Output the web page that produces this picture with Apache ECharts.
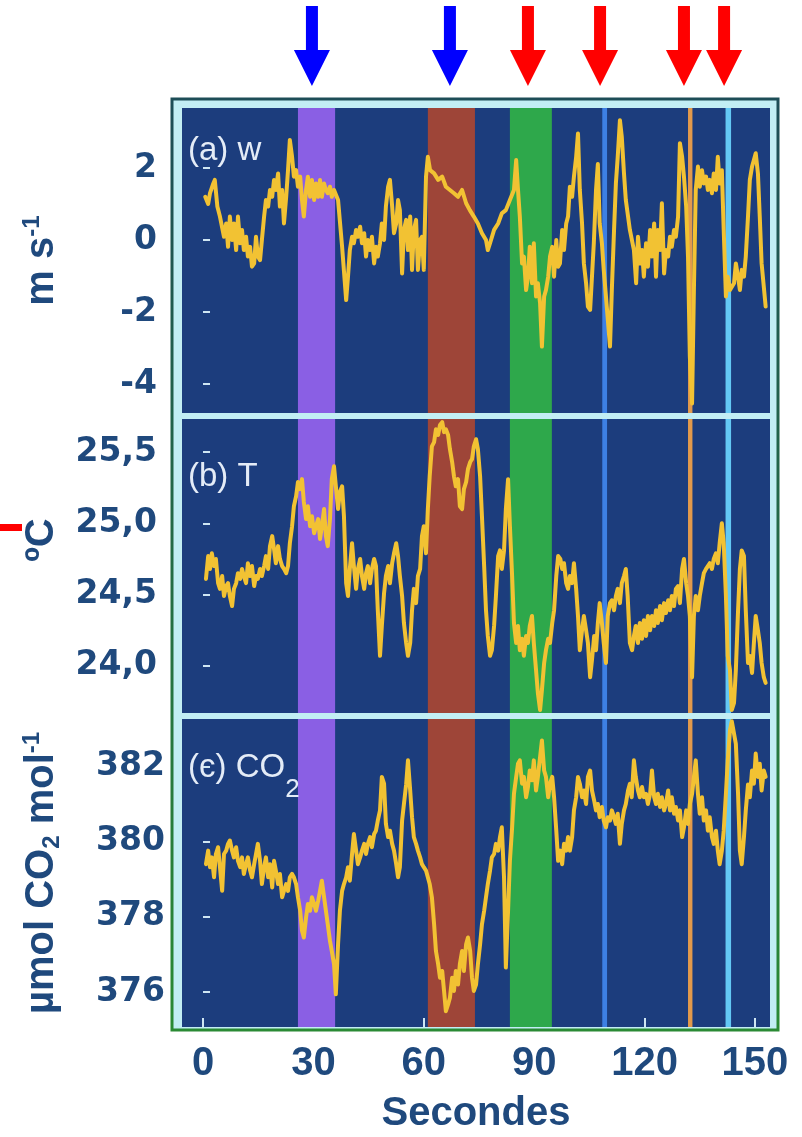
<!DOCTYPE html>
<html>
<head>
<meta charset="utf-8">
<script src="https://cdn.jsdelivr.net/npm/echarts@6/dist/echarts.min.js"></script>
<style>
  html, body { margin: 0; padding: 0; background: #ffffff; }
  #chart { width: 802px; height: 1137px; }
</style>
</head>
<body>
<div id="chart"></div>
<script>
// ---- data -------------------------------------------------------------
// time axis tick labels (s)
const timeTicks = [0, 30, 60, 90, 120, 150];
const wTicks = [-4, -2, 0, 2];
const tempTicks = [24.0, 24.5, 25.0, 25.5];
const co2Ticks = [376, 378, 380, 382];

// (a) vertical wind speed w [s, m s-1]
const wSeries = [[0.6,1.2],[1.4,1.0],[1.9,1.3],[2.8,1.57],[3.2,1.67],[3.9,0.93],[4.6,0.65],[5.7,0.09],[6.3,0.46],[6.8,-0.19],[7.3,0.65],[7.9,0],[8.4,0.46],[9.0,-0.28],[9.5,0.65],[10.1,-0.09],[10.6,0.28],[11.1,-0.28],[11.7,0.09],[12.2,-0.46],[12.8,-0.19],[13.3,-0.74],[13.9,-0.65],[14.4,0.09],[14.9,-0.46],[15.5,-0.56],[16.0,0],[16.6,0.65],[17.1,1.11],[17.7,0.93],[18.2,1.39],[18.8,1.2],[19.3,1.67],[19.8,1.39],[20.4,1.85],[20.9,0.93],[21.5,1.39],[22.0,0.46],[22.6,1.2],[23.1,1.94],[23.6,2.78],[24.2,2.31],[24.7,1.76],[25.3,1.94],[25.8,1.48],[26.4,1.76],[26.9,1.11],[27.4,0.65],[28.0,1.39],[28.5,1.76],[29.1,1.2],[29.6,1.67],[30.2,1.11],[30.7,1.57],[31.3,1.2],[31.8,1.67],[32.3,1.2],[32.9,1.57],[33.4,1.39],[33.9,1.3],[34.5,1.48],[35.0,1.2],[35.6,1.39],[36.7,1.11],[37.8,-0.19],[38.9,-1.67],[39.4,-1.02],[39.9,-0.28],[40.5,0.09],[41.0,-0.09],[41.6,0.28],[42.1,0.09],[42.7,0.37],[43.2,-0.09],[43.8,0.19],[44.3,-0.46],[44.8,0],[45.4,-0.28],[45.9,0.09],[46.5,-0.65],[47.0,-0.19],[47.5,-0.46],[48.1,-0.09],[48.6,0.46],[49.2,0],[49.7,0.93],[50.3,1.48],[50.8,1.67],[51.4,0.93],[51.9,0.19],[52.5,0.46],[53.0,1.11],[53.5,0.83],[54.1,-0.93],[54.6,0.28],[55.2,0.56],[55.7,-0.28],[56.3,0.65],[56.8,-0.83],[57.3,0.28],[57.9,0.56],[58.4,-0.83],[59.0,0],[59.5,0.09],[60.0,-0.83],[60.6,1.76],[61.1,2.31],[61.7,1.94],[62.8,1.85],[63.9,1.67],[65.0,1.76],[66.0,1.48],[67.1,1.39],[68.2,1.3],[69.3,1.2],[70.4,1.39],[71.5,1.02],[72.5,0.83],[73.6,0.65],[74.7,0.46],[75.8,0.19],[76.9,0],[77.4,-0.28],[78.0,-0.09],[79.1,0.28],[80.2,0.46],[81.2,0.74],[82.3,0.83],[83.4,1.11],[84.5,1.39],[85.1,2.22],[85.6,1.39],[86.1,0.65],[86.7,-0.65],[87.2,-0.46],[87.8,-1.39],[88.3,-1.02],[88.8,-0.19],[89.4,-1.2],[89.9,-0.09],[90.5,-1.57],[91.0,-1.2],[91.6,-1.76],[92.1,-2.96],[92.7,-1.57],[93.2,-1.39],[93.8,-1.02],[94.3,-0.46],[94.9,-0.19],[95.4,-1.02],[96.0,0],[96.5,-0.74],[97.0,-0.65],[97.6,0.28],[98.1,-0.28],[98.7,0.46],[99.2,0.65],[99.7,1.48],[100.3,1.2],[100.8,1.76],[101.4,2.31],[101.9,2.96],[102.4,1.39],[103.0,0.46],[103.5,-0.65],[104.1,-1.2],[104.6,-1.85],[105.2,-1.94],[105.7,-1.02],[106.2,-0.09],[106.8,1.39],[107.3,2.11],[107.8,0.46],[108.4,-0.09],[108.9,-0.83],[109.5,-1.57],[110.6,-2.96],[111.1,-1.39],[111.7,0.28],[112.2,1.57],[112.7,2.31],[113.3,3.33],[113.8,2.87],[114.4,1.85],[114.9,1.11],[116.0,0.28],[117.1,-0.28],[117.7,-1.2],[118.2,0.09],[118.8,-0.65],[119.3,-0.28],[119.8,-1.02],[120.4,-0.09],[120.9,-0.74],[121.5,0.28],[122.0,-0.46],[122.6,0.46],[123.1,-1.02],[123.6,0.28],[124.2,-0.28],[124.7,1.02],[125.3,-0.93],[125.8,-0.28],[126.4,-0.46],[126.9,0.09],[127.4,-0.19],[128.0,0.28],[128.5,0.09],[129.1,0.65],[129.6,2.69],[130.2,2.31],[130.7,1.76],[131.3,0.93],[131.8,-0.46],[132.3,-3.24],[132.9,-4.54],[133.4,-1.39],[133.9,1.39],[134.5,2.04],[135.0,1.48],[135.6,1.94],[136.1,1.57],[136.7,1.76],[137.2,1.39],[137.7,1.67],[138.3,1.3],[138.8,1.85],[139.4,1.39],[139.9,2.31],[140.4,1.57],[141.0,1.94],[141.5,0.28],[142.1,-1.57],[142.6,-1.02],[143.2,-1.39],[144.3,-1.2],[144.8,-0.65],[145.4,-1.02],[145.9,-1.39],[146.4,-0.83],[147.0,-1.02],[147.5,-0.46],[148.1,0.65],[148.6,1.67],[149.2,2.04],[149.7,2.22],[150.2,2.41],[150.8,1.85],[151.3,0.65],[151.8,-0.65],[152.9,-1.85]];

// (b) air temperature T [s, degC]
const tempSeries = [[0.8,24.61],[1.4,24.77],[1.9,24.68],[2.4,24.79],[3.0,24.70],[3.5,24.75],[4.1,24.58],[4.6,24.54],[5.2,24.63],[5.7,24.49],[6.3,24.56],[6.8,24.58],[7.3,24.49],[7.9,24.42],[8.4,24.54],[9.0,24.58],[9.5,24.65],[10.1,24.61],[10.6,24.68],[11.1,24.63],[11.7,24.58],[12.2,24.72],[12.8,24.63],[13.3,24.70],[13.9,24.56],[14.4,24.63],[14.9,24.61],[15.5,24.68],[16.0,24.63],[16.6,24.70],[17.1,24.77],[17.7,24.68],[18.2,24.84],[18.8,24.91],[19.3,24.82],[19.8,24.72],[20.4,24.84],[20.9,24.75],[21.5,24.70],[22.0,24.68],[22.6,24.65],[23.1,24.70],[23.6,24.86],[24.2,24.98],[24.7,25.12],[25.3,25.19],[25.8,25.29],[26.4,25.24],[26.9,25.31],[27.4,25.15],[28.0,25.03],[28.5,25.12],[29.1,24.98],[29.6,25.05],[30.2,24.93],[30.7,24.98],[31.3,25.03],[31.8,24.89],[32.3,24.98],[32.9,25.10],[33.4,24.91],[33.9,24.84],[34.5,25.03],[35.0,25.31],[35.6,25.40],[36.1,25.26],[36.7,25.10],[37.2,25.22],[37.8,25.26],[38.3,25.05],[38.9,24.58],[39.4,24.49],[39.9,24.68],[40.5,24.86],[41.0,24.70],[41.6,24.54],[42.1,24.68],[42.7,24.75],[43.2,24.63],[43.8,24.54],[44.3,24.65],[44.8,24.70],[45.4,24.58],[45.9,24.68],[46.5,24.75],[47.0,24.70],[47.5,24.39],[48.1,24.07],[48.6,24.28],[49.2,24.51],[49.7,24.63],[50.3,24.70],[50.8,24.58],[51.4,24.72],[51.9,24.79],[52.5,24.86],[53.0,24.77],[53.5,24.63],[54.1,24.49],[54.6,24.30],[55.2,24.16],[55.7,24.07],[56.3,24.16],[56.8,24.39],[57.3,24.54],[57.9,24.44],[58.4,24.63],[59.0,24.68],[59.5,24.91],[60.0,24.98],[60.6,24.79],[61.1,25.10],[61.6,25.33],[62.2,25.54],[62.8,25.57],[63.3,25.66],[63.9,25.62],[64.4,25.69],[65.0,25.71],[65.5,25.64],[66.0,25.66],[66.6,25.62],[67.1,25.52],[67.7,25.43],[68.2,25.33],[68.7,25.26],[69.3,25.31],[69.8,25.12],[70.4,25.10],[70.9,25.24],[71.5,25.29],[72.0,25.38],[72.6,25.43],[73.1,25.45],[73.6,25.54],[74.2,25.59],[74.7,25.52],[75.3,25.33],[75.8,25.05],[76.4,24.70],[76.9,24.39],[77.4,24.21],[78.0,24.07],[78.5,24.11],[79.1,24.28],[79.6,24.49],[80.2,24.77],[80.7,24.81],[81.2,24.68],[81.8,24.81],[82.3,25.10],[82.9,25.31],[83.4,24.98],[84.0,24.63],[84.5,24.30],[85.1,24.16],[85.6,24.28],[86.1,24.11],[86.7,24.19],[87.2,24.07],[87.8,24.21],[88.3,24.16],[88.8,24.28],[89.4,24.35],[89.9,24.16],[90.5,23.97],[91.0,23.81],[91.6,23.69],[92.1,23.83],[92.7,24.02],[93.2,24.11],[93.8,24.19],[94.3,24.16],[94.9,24.30],[95.4,24.39],[96.0,24.63],[96.5,24.77],[97.1,24.75],[97.6,24.68],[98.1,24.72],[98.7,24.58],[99.2,24.54],[99.7,24.63],[100.3,24.58],[100.8,24.72],[101.4,24.54],[101.9,24.35],[102.4,24.11],[103.0,24.25],[103.5,24.35],[104.1,24.25],[104.6,24.16],[105.2,23.92],[105.7,24.04],[106.3,24.21],[106.8,24.11],[107.3,24.30],[107.8,24.44],[108.4,24.30],[108.9,24.16],[109.5,24.02],[110.0,24.35],[110.6,24.44],[111.1,24.46],[111.7,24.39],[112.2,24.49],[112.7,24.54],[113.3,24.44],[113.8,24.58],[114.4,24.63],[114.9,24.68],[115.4,24.49],[116.0,24.16],[116.6,24.11],[117.1,24.21],[117.6,24.28],[118.2,24.16],[118.7,24.30],[119.3,24.19],[119.8,24.32],[120.4,24.21],[120.9,24.35],[121.5,24.25],[122.0,24.35],[122.6,24.28],[123.1,24.39],[123.6,24.30],[124.2,24.42],[124.7,24.32],[125.3,24.44],[125.8,24.37],[126.4,24.46],[126.9,24.39],[127.4,24.49],[128.0,24.42],[128.5,24.54],[129.1,24.56],[129.6,24.44],[130.2,24.68],[130.7,24.75],[131.3,24.58],[131.8,24.49],[132.3,24.35],[132.9,23.92],[133.4,24.35],[133.9,24.49],[134.5,24.39],[135.0,24.49],[135.6,24.58],[136.1,24.65],[136.7,24.68],[137.2,24.70],[137.7,24.72],[138.3,24.68],[138.8,24.75],[139.4,24.79],[139.9,24.72],[140.4,24.86],[141.0,25.00],[141.5,24.86],[142.1,24.49],[142.6,24.07],[143.2,23.97],[143.7,23.69],[144.3,23.74],[144.8,23.97],[145.4,24.39],[145.9,24.68],[146.4,24.81],[147.0,24.77],[147.5,24.39],[148.1,24.02],[148.6,24.07],[149.2,23.95],[149.7,24.16],[150.2,24.35],[150.8,24.25],[151.3,24.16],[151.8,24.02],[152.4,23.92],[152.9,23.88]];

// (c) CO2 mole fraction [s, umol mol-1]
const co2Series = [[0.8,379.40],[1.4,379.76],[1.9,379.32],[2.4,379.58],[3.0,379.05],[3.5,379.67],[4.1,379.85],[4.6,379.32],[5.2,378.69],[5.7,379.67],[6.3,379.76],[6.8,379.94],[7.3,380.03],[7.9,379.76],[8.4,379.58],[9.0,379.85],[9.5,379.49],[10.1,379.32],[10.6,379.58],[11.1,379.14],[11.7,379.40],[12.2,379.58],[12.8,379.23],[13.3,379.05],[13.9,379.40],[14.4,379.67],[14.9,379.94],[15.5,379.49],[16.0,378.87],[16.6,379.32],[17.1,379.58],[17.7,379.05],[18.2,379.40],[18.8,378.78],[19.3,379.49],[19.8,379.23],[20.4,378.87],[20.9,379.14],[21.5,378.52],[22.0,378.69],[22.6,378.87],[23.1,378.69],[23.6,379.05],[24.2,379.14],[24.7,379.05],[25.3,378.87],[25.8,378.52],[26.4,378.16],[26.9,377.63],[27.4,377.45],[28.0,377.98],[28.5,378.34],[29.1,378.16],[29.6,378.52],[30.2,378.34],[30.7,378.16],[31.3,378.43],[31.8,378.69],[32.3,378.96],[32.9,378.52],[33.4,378.16],[33.9,377.80],[34.5,377.36],[35.0,377.09],[35.6,376.74],[36.1,375.94],[36.7,377.27],[37.2,378.16],[37.8,378.69],[38.3,378.87],[38.9,379.05],[39.4,379.32],[39.9,378.96],[40.5,379.67],[41.0,380.20],[41.6,379.76],[42.1,379.40],[42.7,379.58],[43.2,379.76],[43.8,379.94],[44.3,379.67],[44.8,379.94],[45.4,380.12],[45.9,379.85],[46.5,380.20],[47.0,380.29],[47.5,380.56],[48.1,380.83],[48.6,381.72],[49.2,381.54],[49.7,380.47],[50.3,380.12],[50.8,380.29],[51.4,379.94],[51.9,379.76],[52.5,379.40],[53.0,379.05],[53.5,379.32],[54.1,380.56],[54.6,381.0],[55.2,381.52],[55.7,382.16],[56.3,381.36],[56.8,380.65],[57.3,380.12],[57.9,379.94],[58.4,379.76],[59.0,379.58],[59.5,379.40],[60.0,379.32],[60.6,379.23],[61.1,379.05],[61.6,378.87],[62.2,378.52],[62.8,377.80],[63.3,377.09],[63.9,376.74],[64.4,376.38],[65.0,376.56],[65.5,376.03],[66.0,375.49],[66.6,375.67],[67.1,375.85],[67.7,376.38],[68.2,376.03],[68.7,376.56],[69.3,376.20],[69.8,376.74],[70.4,377.09],[70.9,376.56],[71.5,377.27],[72.0,377.45],[72.6,377.09],[73.1,376.38],[73.6,376.03],[74.2,376.20],[74.7,376.74],[75.3,377.27],[75.8,377.80],[76.4,378.16],[76.9,378.52],[77.4,378.87],[78.0,379.23],[78.5,379.58],[79.1,379.67],[79.6,379.94],[80.2,379.76],[80.7,380.12],[81.2,380.38],[81.8,379.05],[82.3,376.65],[82.9,378.16],[83.4,379.49],[84.0,380.38],[84.5,381.27],[85.1,381.72],[85.6,382.07],[86.1,382.16],[86.7,381.54],[87.2,381.72],[87.8,381.18],[88.3,381.45],[88.8,381.89],[89.4,381.63],[89.9,382.16],[90.5,381.36],[91.0,381.72],[91.6,382.25],[92.1,382.69],[92.7,381.89],[93.2,381.72],[93.8,381.18],[94.3,381.54],[94.9,381.72],[95.4,381.18],[96.0,380.29],[96.5,379.49],[97.1,379.76],[97.6,379.40],[98.1,379.94],[98.7,379.76],[99.2,380.12],[99.7,379.76],[100.3,380.12],[100.8,380.83],[101.4,381.18],[101.9,381.72],[102.4,381.54],[103.0,381.18],[103.5,381.36],[104.1,381.0],[104.6,381.72],[105.2,381.89],[105.7,381.36],[106.3,381.09],[106.8,380.83],[107.3,381.0],[107.8,380.65],[108.4,380.92],[108.9,380.56],[109.5,380.38],[110.0,380.65],[110.6,380.56],[111.1,380.83],[111.7,380.65],[112.2,380.47],[112.7,380.74],[113.3,379.94],[113.8,380.47],[114.4,380.83],[114.9,381.0],[115.5,381.36],[116.0,381.54],[116.5,381.18],[117.1,382.16],[117.6,381.72],[118.2,381.36],[118.7,381.18],[119.3,381.45],[119.8,381.18],[120.4,381.27],[120.9,381.0],[121.5,381.27],[122.0,381.89],[122.6,381.18],[123.1,381.0],[123.6,381.27],[124.2,380.92],[124.7,381.18],[125.3,380.83],[125.8,381.0],[126.4,381.36],[126.9,380.83],[127.4,381.18],[128.0,380.74],[128.5,380.92],[129.1,380.56],[129.6,380.83],[130.2,380.12],[130.7,380.38],[131.3,380.83],[131.8,380.47],[132.3,381.0],[132.9,381.27],[133.4,381.72],[133.9,382.16],[134.5,381.27],[135.0,380.74],[135.6,381.18],[136.1,380.56],[136.7,380.83],[137.2,380.29],[137.7,380.65],[138.3,380.12],[138.8,379.94],[139.4,380.29],[139.9,379.76],[140.4,379.40],[141.0,379.76],[141.5,380.29],[142.1,381.27],[142.6,382.16],[143.2,382.96],[143.7,383.2],[144.8,382.6],[145.4,381.27],[145.9,379.76],[146.4,379.40],[147.0,380.12],[147.5,380.83],[148.1,381.52],[148.6,381.18],[149.2,381.89],[149.7,381.54],[150.2,382.34],[150.8,381.72],[151.3,382.07],[151.8,381.36],[152.4,381.89],[152.9,381.72]];

// highlighted periods [start s, end s]
const bandSpans = [[25.8, 35.9], [61.1, 73.9], [83.4, 94.8], [108.5, 109.8], [131.8, 133.0], [142.0, 143.5]];
// event arrows: time (s) and kind
const arrowTimes = [29.6, 67.1, 88.3, 107.9, 130.7, 141.6];
const arrowKinds = ['cool', 'cool', 'warm', 'warm', 'warm', 'warm'];

// ---- styling / layout ---------------------------------------------------
const bandColors = ['#8a5fe4', '#9e4538', '#2ea84b', '#3d80e4', '#e29a4c', '#63c8f4'];
const arrowColors = { cool: '#0000ff', warm: '#ff0000' };
const NAVY = '#1c3d7d';
const FRAME = '#c2eef4';
const INK = '#1f497d';
const TRACE = '#f2c233';
const TICK = '#cfe6f3';

const PLOT_L = 182, PLOT_R = 770;
const panels = [
  { top: 108, bottom: 413, min: -4.806, max: 3.667 },
  { top: 419, bottom: 713, min: 23.669, max: 25.732 },
  { top: 719, bottom: 1027, min: 375.07, max: 383.26 }
];
const X_MIN = -5.71, X_MAX = 154.08;

const chart = echarts.init(document.getElementById('chart'), null, { renderer: 'canvas' });

const grids = panels.map(p => ({
  left: PLOT_L, width: PLOT_R - PLOT_L, top: p.top, height: p.bottom - p.top,
  show: true, backgroundColor: NAVY, borderWidth: 0
}));

const xAxes = panels.map((p, i) => {
  const last = i === panels.length - 1;
  return {
    type: 'value', gridIndex: i, min: X_MIN, max: X_MAX,
    axisLine: { show: false }, splitLine: { show: false },
    axisTick: last ? { show: true, inside: true, length: 9, customValues: timeTicks, lineStyle: { color: TICK, width: 2 } } : { show: false },
    axisLabel: last ? {
      show: true, customValues: timeTicks, margin: 17, color: INK,
      fontFamily: 'Liberation Sans', fontWeight: 'bold', fontSize: 40
    } : { show: false },
    name: last ? 'Secondes' : '', nameLocation: 'middle', nameGap: 67,
    nameTextStyle: { color: INK, fontFamily: 'Liberation Sans', fontWeight: 'bold', fontSize: 40 }
  };
});

const nameRich = {
  b: { fontFamily: 'Liberation Sans', fontWeight: 'bold', fontSize: 40, color: INK, lineHeight: 44 },
  sup: { fontFamily: 'Liberation Sans', fontWeight: 'bold', fontSize: 24, color: INK, lineHeight: 44, verticalAlign: 'top' },
  sub: { fontFamily: 'Liberation Sans', fontWeight: 'bold', fontSize: 24, color: INK, lineHeight: 44, verticalAlign: 'bottom' },
  bshift: { fontFamily: 'Liberation Sans', fontWeight: 'bold', fontSize: 40, color: INK, lineHeight: 44, padding: [0, 0, 0, 52] }
};

function yAxis(i, ticks, name, formatter, margin, labelPad) {
  return {
    type: 'value', gridIndex: i, min: panels[i].min, max: panels[i].max,
    axisLine: { show: false }, splitLine: { show: false },
    axisTick: { show: true, inside: true, length: 7, customValues: ticks, lineStyle: { color: TICK, width: 2 } },
    axisLabel: {
      show: true, customValues: ticks, formatter, margin, color: INK,
      fontFamily: 'DejaVu Sans', fontWeight: 'bold', fontSize: 33, padding: labelPad
    },
    name, nameLocation: 'middle', nameRotate: 90, nameGap: 118,
    nameTextStyle: { rich: nameRich }
  };
}

const yAxes = [
  yAxis(0, wTicks, '{b|m s}{sup|-1}', v => String(v), 25, [6, 0, 0, 0]),
  yAxis(1, tempTicks, '{bshift|ºC}', v => v.toFixed(1).replace('.', ','), 25, [0, 0, 0, 0]),
  yAxis(2, co2Ticks, '{b|µmol CO}{sub|2}{b| mol}{sup|-1}', v => String(v), 17, [0, 0, 12, 0])
];

function bandSeries(i) {
  return {
    type: 'custom', xAxisIndex: i, yAxisIndex: i, z: 1, silent: true, animation: false,
    data: bandSpans.map((s, k) => [s[0], s[1], k]),
    encode: { x: [0, 1] },
    renderItem: (params, api) => {
      const cs = params.coordSys;
      const x0 = api.coord([api.value(0), panels[i].min])[0];
      const x1 = api.coord([api.value(1), panels[i].min])[0];
      return {
        type: 'rect',
        shape: { x: x0, y: cs.y, width: x1 - x0, height: cs.height },
        style: { fill: bandColors[api.value(2)] }
      };
    }
  };
}

function traceSeries(i, data) {
  return {
    type: 'line', xAxisIndex: i, yAxisIndex: i, z: 3, data,
    symbol: 'none', showSymbol: false, animation: false, silent: true,
    lineStyle: { color: TRACE, width: 4, join: 'round', cap: 'round' }
  };
}

const arrowSeries = {
  type: 'custom', xAxisIndex: 0, yAxisIndex: 0, z: 10, clip: false, silent: true, animation: false,
  data: arrowTimes.map((t, k) => [t, 0, k]),
  encode: { x: 0, y: 1 },
  renderItem: (params, api) => {
    const x = api.coord([api.value(0), 0])[0];
    const kind = arrowKinds[api.value(2)];
    const top = 6, neck = 50, tip = 86, shaft = 6, head = 18;
    return {
      type: 'polygon',
      shape: { points: [[x - shaft, top], [x + shaft, top], [x + shaft, neck], [x + head, neck], [x, tip], [x - head, neck], [x - shaft, neck]] },
      style: { fill: arrowColors[kind] }
    };
  }
};

const labelStyle = { fill: '#e4ecf7', fontFamily: 'Liberation Sans', fontSize: 33 };

chart.setOption({
  animation: false,
  grid: grids,
  xAxis: xAxes,
  yAxis: yAxes,
  series: [
    bandSeries(0), bandSeries(1), bandSeries(2),
    traceSeries(0, wSeries), traceSeries(1, tempSeries), traceSeries(2, co2Series),
    arrowSeries
  ],
  graphic: [
    {
      type: 'rect', z: -10, silent: true,
      shape: { x: 172, y: 99, width: 606, height: 931 },
      style: {
        fill: FRAME, lineWidth: 3,
        stroke: new echarts.graphic.LinearGradient(0, 0, 0, 1, [
          { offset: 0, color: '#1d4d57' }, { offset: 1, color: '#2a8a34' }
        ])
      }
    },
    { type: 'rect', z: 5, silent: true, shape: { x: 0, y: 524, width: 22, height: 7 }, style: { fill: '#ff0000' } },
    { type: 'text', z: 20, silent: true, x: 188, y: 134, style: Object.assign({ text: '(a) w' }, labelStyle) },
    { type: 'text', z: 20, silent: true, x: 188, y: 460, style: Object.assign({ text: '(b) T' }, labelStyle) },
    {
      type: 'text', z: 20, silent: true, x: 188, y: 751,
      style: {
        text: '{t|(c) CO}{s|2}',
        rich: {
          t: { fill: '#e4ecf7', fontFamily: 'Liberation Sans', fontSize: 33, lineHeight: 40, verticalAlign: 'top' },
          s: { fill: '#e4ecf7', fontFamily: 'Liberation Sans', fontSize: 26, lineHeight: 40, verticalAlign: 'bottom', padding: [0, 0, -12, 0] }
        }
      }
    }
  ]
});
</script>
</body>
</html>
